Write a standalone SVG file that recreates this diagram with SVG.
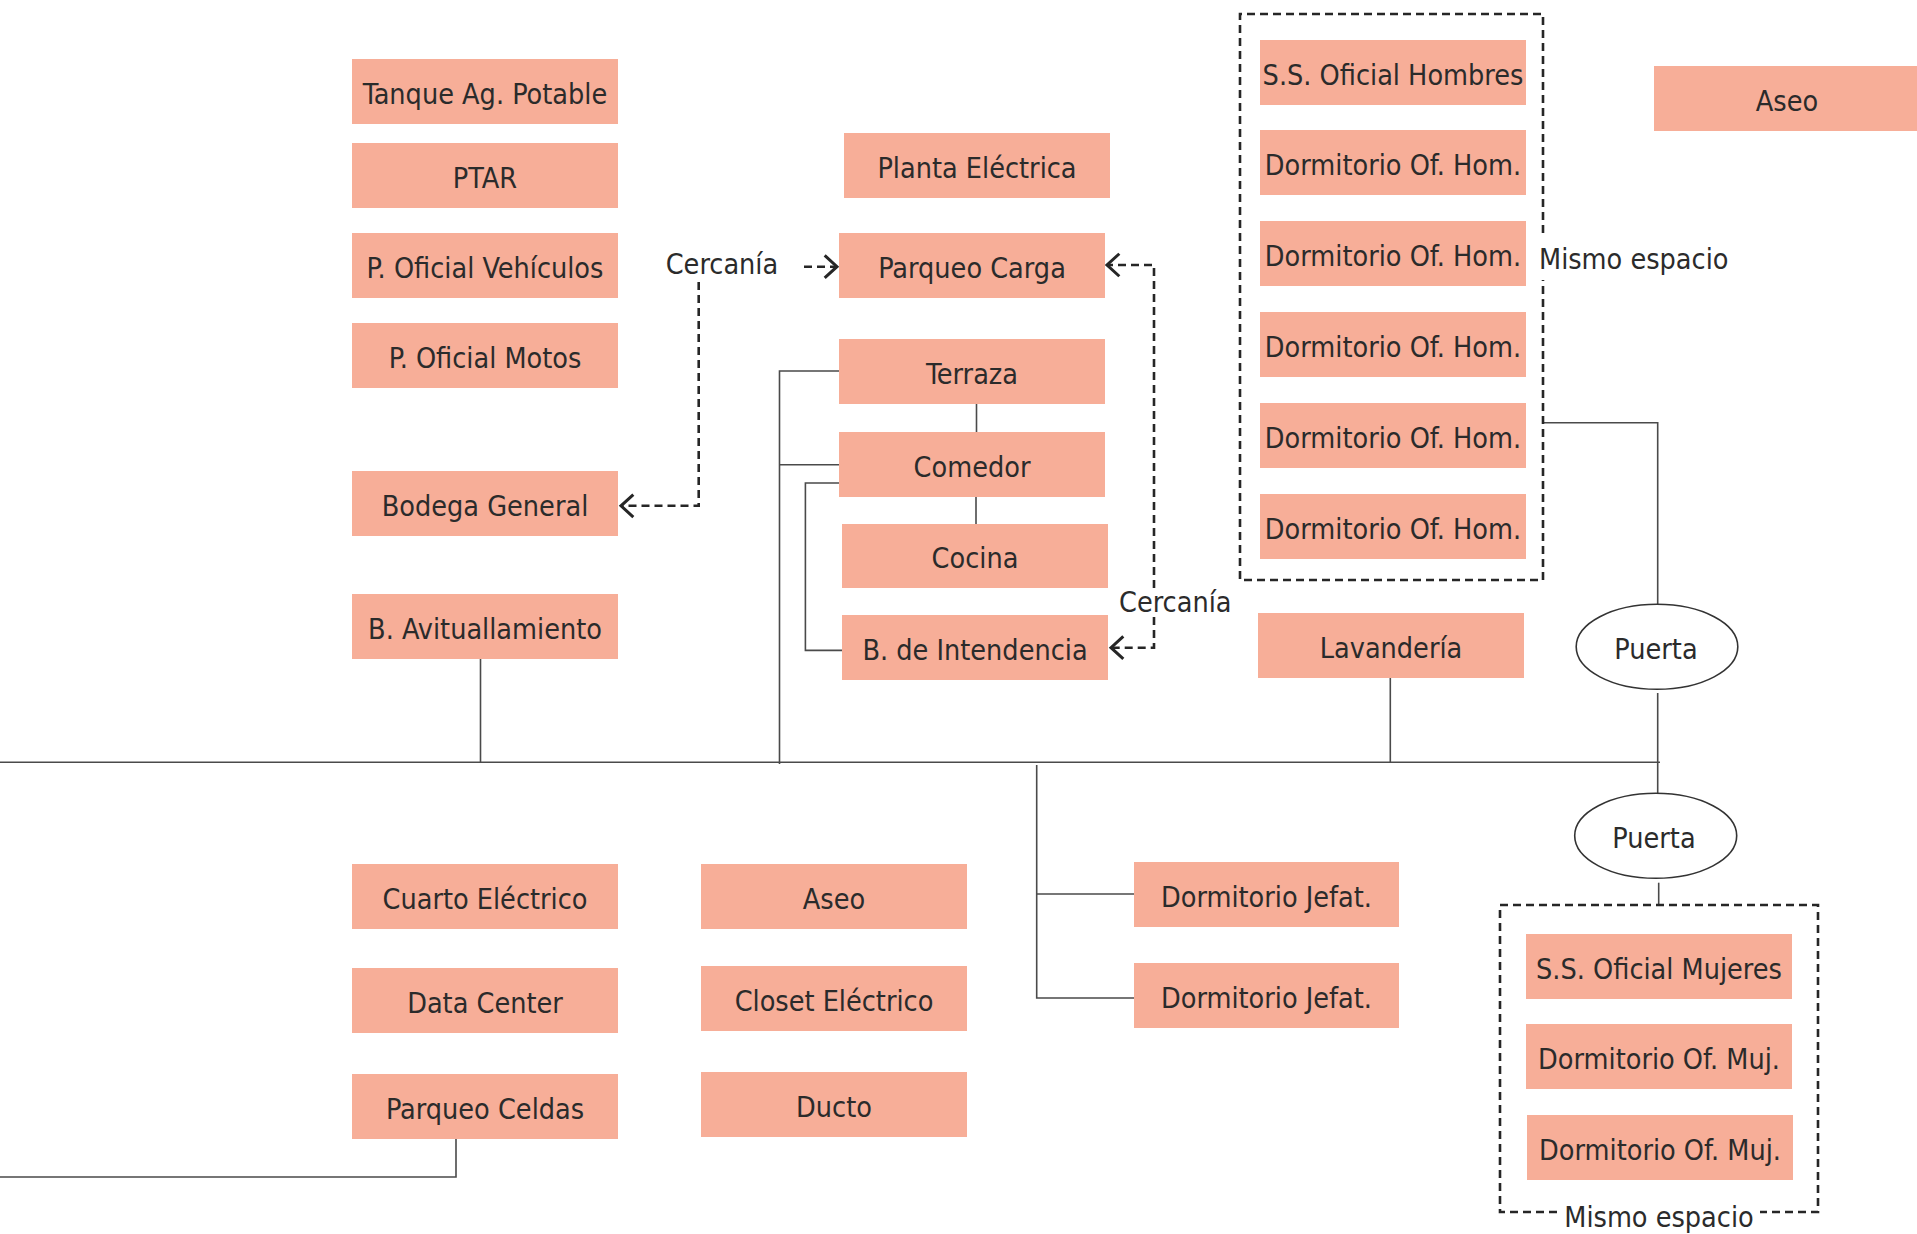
<svg xmlns="http://www.w3.org/2000/svg" width="1917" height="1234" viewBox="0 0 1917 1234">
<style>
.box{fill:#F7AE98}
.lbl{font-family:"DejaVu Sans Condensed","DejaVu Sans",sans-serif;font-stretch:condensed;font-size:28.5px;fill:#2b2b2b;text-anchor:middle}
.note{font-family:"DejaVu Sans Condensed","DejaVu Sans",sans-serif;font-stretch:condensed;font-size:28.5px;fill:#2b2b2b}
.wire{fill:none;stroke:#4a4a4a;stroke-width:1.6}
.dash{fill:none;stroke:#262626;stroke-width:2.6;stroke-dasharray:8 5}
.door{fill:#ffffff;stroke:#333333;stroke-width:1.6}
</style>
<defs>
<marker id="chev" markerUnits="userSpaceOnUse" markerWidth="30" markerHeight="30" viewBox="-16 -14 20 28" refX="0" refY="0" orient="auto">
<path d="M-11.5,-10.5 L0,0 L-11.5,10.5" fill="none" stroke="#262626" stroke-width="2.8" stroke-linejoin="miter"/>
</marker>
</defs>
<rect x="0" y="0" width="1917" height="1234" fill="#ffffff"/>

<g id="connectors">
<path class="wire" d="M0,762.3 H1660"/>
<path class="wire" d="M480.5,659 V763"/>
<path class="wire" d="M839,371 H779.5 V764"/>
<path class="wire" d="M779.5,464.7 H839"/>
<path class="wire" d="M839,483 H805.4 V650.4 H842"/>
<path class="wire" d="M976.5,404 V432"/>
<path class="wire" d="M976,497 V524"/>
<path class="wire" d="M1390.3,678 V762"/>
<path class="wire" d="M1543,422.7 H1657.7 V604.3"/>
<path class="wire" d="M1657.7,693 V793.3"/>
<path class="wire" d="M1658.7,882.7 V905"/>
<path class="wire" d="M1036.7,765 V998 H1134"/>
<path class="wire" d="M1036.7,894 H1134"/>
<path class="wire" d="M456,1139 V1177 H0"/>
<path class="dash" d="M698.7,282 V505.8 H621" marker-end="url(#chev)"/>
<path class="dash" d="M804,266.7 H837" marker-end="url(#chev)"/>
<path class="dash" d="M1154,588 V265 H1107" marker-end="url(#chev)"/>
<path class="dash" d="M1154,617 V647.7 H1111" marker-end="url(#chev)"/>
</g>

<g id="group-hombres">
<path class="dash" d="M1543,233 V14 H1240 V580 H1543 V280"/>
<text class="note" x="1539" y="269">Mismo espacio</text>
</g>
<g id="group-mujeres">
<path class="dash" d="M1557,1212 H1500 V905 H1818 V1212 H1760"/>
<text class="lbl" x="1659" y="1226.5">Mismo espacio</text>
</g>

<g id="label-cercania-1"><text class="note" x="665.7" y="274.3">Cercanía</text></g>
<g id="label-cercania-2"><text class="note" x="1119" y="611.7">Cercanía</text></g>

<g id="n-tanque"><rect class="box" x="352" y="59" width="266" height="65"/><text class="lbl" x="485" y="103.5">Tanque Ag. Potable</text></g>
<g id="n-ptar"><rect class="box" x="352" y="143" width="266" height="65"/><text class="lbl" x="485" y="187.5">PTAR</text></g>
<g id="n-vehiculos"><rect class="box" x="352" y="233" width="266" height="65"/><text class="lbl" x="485" y="277.5">P. Oficial Vehículos</text></g>
<g id="n-motos"><rect class="box" x="352" y="323" width="266" height="65"/><text class="lbl" x="485" y="367.5">P. Oficial Motos</text></g>
<g id="n-bodega"><rect class="box" x="352" y="471" width="266" height="65"/><text class="lbl" x="485" y="515.5">Bodega General</text></g>
<g id="n-avituallamiento"><rect class="box" x="352" y="594" width="266" height="65"/><text class="lbl" x="485" y="638.5">B. Avituallamiento</text></g>
<g id="n-cuarto-electrico"><rect class="box" x="352" y="864" width="266" height="65"/><text class="lbl" x="485" y="908.5">Cuarto Eléctrico</text></g>
<g id="n-data-center"><rect class="box" x="352" y="968" width="266" height="65"/><text class="lbl" x="485" y="1012.5">Data Center</text></g>
<g id="n-parqueo-celdas"><rect class="box" x="352" y="1074" width="266" height="65"/><text class="lbl" x="485" y="1118.5">Parqueo Celdas</text></g>

<g id="n-aseo-2"><rect class="box" x="701" y="864" width="266" height="65"/><text class="lbl" x="834" y="908.5">Aseo</text></g>
<g id="n-closet"><rect class="box" x="701" y="966" width="266" height="65"/><text class="lbl" x="834" y="1010.5">Closet Eléctrico</text></g>
<g id="n-ducto"><rect class="box" x="701" y="1072" width="266" height="65"/><text class="lbl" x="834" y="1116.5">Ducto</text></g>

<g id="n-planta"><rect class="box" x="844" y="133" width="266" height="65"/><text class="lbl" x="977" y="177.5">Planta Eléctrica</text></g>
<g id="n-parqueo-carga"><rect class="box" x="839" y="233" width="266" height="65"/><text class="lbl" x="972" y="277.5">Parqueo Carga</text></g>
<g id="n-terraza"><rect class="box" x="839" y="339" width="266" height="65"/><text class="lbl" x="972" y="383.5">Terraza</text></g>
<g id="n-comedor"><rect class="box" x="839" y="432" width="266" height="65"/><text class="lbl" x="972" y="476.5">Comedor</text></g>
<g id="n-cocina"><rect class="box" x="842" y="524" width="266" height="64"/><text class="lbl" x="975" y="568">Cocina</text></g>
<g id="n-intendencia"><rect class="box" x="842" y="615" width="266" height="65"/><text class="lbl" x="975" y="659.5">B. de Intendencia</text></g>

<g id="n-ss-hombres"><rect class="box" x="1260" y="40" width="266" height="65"/><text class="lbl" x="1393" y="84.5">S.S. Oficial Hombres</text></g>
<g id="n-dorm-hom-1"><rect class="box" x="1260" y="130" width="266" height="65"/><text class="lbl" x="1393" y="174.5">Dormitorio Of. Hom.</text></g>
<g id="n-dorm-hom-2"><rect class="box" x="1260" y="221" width="266" height="65"/><text class="lbl" x="1393" y="265.5">Dormitorio Of. Hom.</text></g>
<g id="n-dorm-hom-3"><rect class="box" x="1260" y="312" width="266" height="65"/><text class="lbl" x="1393" y="356.5">Dormitorio Of. Hom.</text></g>
<g id="n-dorm-hom-4"><rect class="box" x="1260" y="403" width="266" height="65"/><text class="lbl" x="1393" y="447.5">Dormitorio Of. Hom.</text></g>
<g id="n-dorm-hom-5"><rect class="box" x="1260" y="494" width="266" height="65"/><text class="lbl" x="1393" y="538.5">Dormitorio Of. Hom.</text></g>
<g id="n-lavanderia"><rect class="box" x="1258" y="613" width="266" height="65"/><text class="lbl" x="1391" y="657.5">Lavandería</text></g>
<g id="n-aseo-1"><rect class="box" x="1654" y="66" width="266" height="65"/><text class="lbl" x="1787" y="110.5">Aseo</text></g>

<g id="n-jefat-1"><rect class="box" x="1134" y="862" width="265" height="65"/><text class="lbl" x="1266.5" y="906.5">Dormitorio Jefat.</text></g>
<g id="n-jefat-2"><rect class="box" x="1134" y="963" width="265" height="65"/><text class="lbl" x="1266.5" y="1007.5">Dormitorio Jefat.</text></g>

<g id="n-ss-mujeres"><rect class="box" x="1526" y="934" width="266" height="65"/><text class="lbl" x="1659" y="978.5">S.S. Oficial Mujeres</text></g>
<g id="n-dorm-muj-1"><rect class="box" x="1526" y="1024" width="266" height="65"/><text class="lbl" x="1659" y="1068.5">Dormitorio Of. Muj.</text></g>
<g id="n-dorm-muj-2"><rect class="box" x="1527" y="1115" width="266" height="65"/><text class="lbl" x="1660" y="1159.5">Dormitorio Of. Muj.</text></g>

<g id="n-puerta-1"><ellipse class="door" cx="1657" cy="646.8" rx="80.8" ry="42.5"/><text class="lbl" x="1656" y="659">Puerta</text></g>
<g id="n-puerta-2"><ellipse class="door" cx="1655.7" cy="835.8" rx="81" ry="42.5"/><text class="lbl" x="1654" y="847.5">Puerta</text></g>
</svg>
